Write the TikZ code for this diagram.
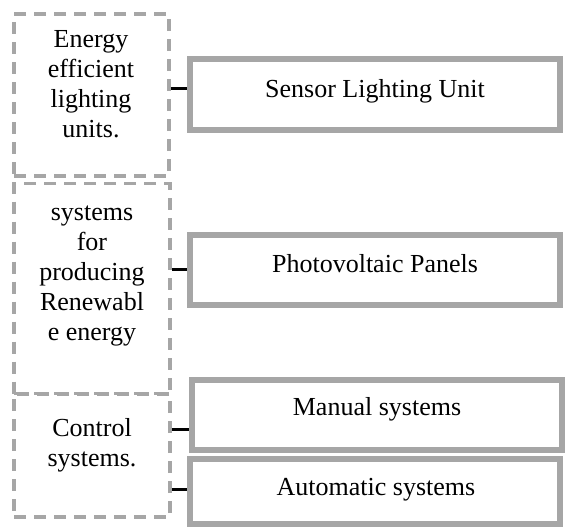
\documentclass[tikz,border=0pt]{standalone}
\usepackage{fontspec}
\setmainfont{Liberation Serif}
\definecolor{boxgray}{HTML}{A6A6A6}
\begin{document}
\begin{tikzpicture}[x=1pt,y=-1pt,
  dashbox/.style={draw=boxgray,line width=3.5pt,dash pattern=on 12pt off 8pt,rectangle,inner sep=0pt},
  solidbox/.style={draw=boxgray,line width=6pt,rectangle,inner sep=0pt},
  txt/.style={font=\fontsize{26}{30}\selectfont,align=center,inner sep=0pt,anchor=base},
  conn/.style={draw=black,line width=3pt}]
\useasboundingbox (0,0) rectangle (571,530);
% dashed category boxes
\node[dashbox,minimum width=155pt,minimum height=162pt] (d1) at (91.5,95) {};
\node[dashbox,minimum width=156pt,minimum height=210pt] (d2) at (92,288.5) {};
\node[dashbox,minimum width=156pt,minimum height=123pt] (d3) at (92,455.5) {};
% solid boxes
\node[solidbox,minimum width=370pt,minimum height=71pt] (s1) at (375,94.5) {};
\node[solidbox,minimum width=370pt,minimum height=70pt] (s2) at (375,270) {};
\node[solidbox,minimum width=370pt,minimum height=70pt] (s3) at (377,415) {};
\node[solidbox,minimum width=370pt,minimum height=65pt] (s4) at (375,491.5) {};
% texts (anchor base = last line)
\node[txt] (t1) at (91,137) {Energy\\efficient\\lighting\\units.};
\node[txt] (t2) at (92,340) {systems\\for\\producing\\Renewabl\\e energy};
\node[txt] (t3) at (92,466) {Control\\systems.};
\node[txt] (u1) at (375,97) {Sensor Lighting Unit};
\node[txt] (u2) at (375,272) {Photovoltaic Panels};
\node[txt] (u3) at (377,415) {Manual systems};
\node[txt] (u4) at (376,495) {Automatic systems};
% connectors
\draw[conn] ([yshift=7pt]d1.east) -- ([yshift=6.5pt]s1.west);
\draw[conn] ([yshift=19.5pt]d2.east) -- ([yshift=1pt]s2.west);
\draw[conn] ([yshift=26.5pt]d3.east) -- ([yshift=-14pt]s3.west);
\draw[conn] ([yshift=-33.5pt]d3.east) -- ([yshift=2.5pt]s4.west);
\end{tikzpicture}
\end{document}
